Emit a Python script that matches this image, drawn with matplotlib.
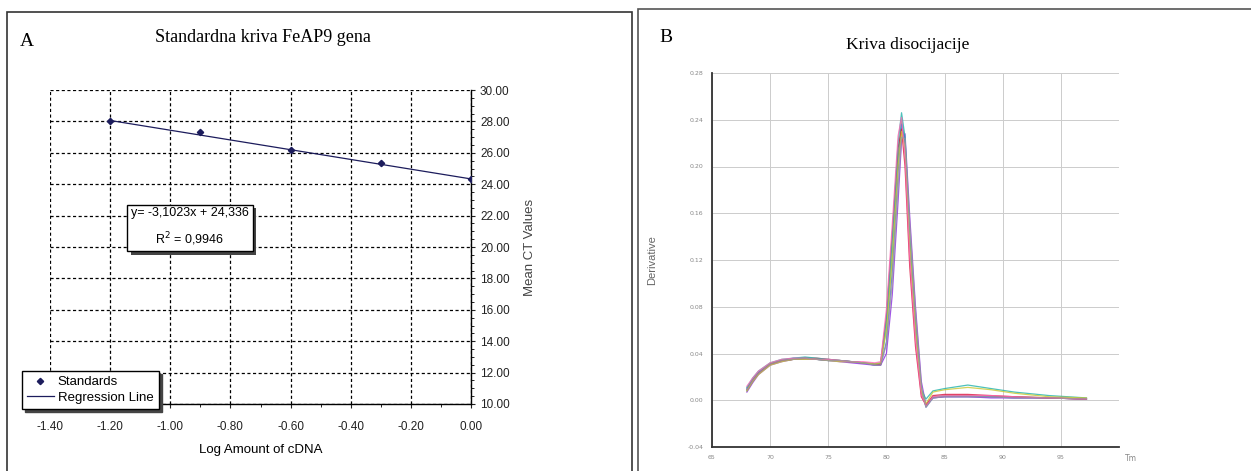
import matplotlib
matplotlib.use("Agg")
import matplotlib.pyplot as plt
import matplotlib.patheffects as pe
from matplotlib.patches import Rectangle
from matplotlib.lines import Line2D
import numpy as np

# panel A: standard curve
log_cdna = [-1.20, -0.90, -0.60, -0.30, 0.00]
mean_ct = [28.05, 27.35, 26.18, 25.37, 24.33]
slope, intercept = -3.1023, 24.336
eq_text = "y= -3,1023x + 24,336\nR$^2$ = 0,9946"
a_xticks = [-1.40, -1.20, -1.00, -0.80, -0.60, -0.40, -0.20, 0.00]
a_yticks = [10, 12, 14, 16, 18, 20, 22, 24, 26, 28, 30]

# panel B: dissociation curves (read by eye)
tm = [68.0, 68.5, 69.0, 70.0, 71.0, 72.0, 73.0, 74.0, 75.0, 76.0, 77.0, 78.0, 79.0, 79.5,
      80.0, 80.5, 81.0, 81.3, 81.6, 82.0, 82.5, 83.0, 83.4, 84.0, 85.0, 87.0, 89.0, 91.0, 94.0, 97.2]
deriv_1 = [0.008, 0.016, 0.023, 0.031, 0.034, 0.035, 0.036, 0.035, 0.034, 0.034, 0.033, 0.032, 0.031, 0.031,
           0.062, 0.125, 0.205, 0.240, 0.218, 0.132, 0.060, 0.006, -0.005, 0.003, 0.004, 0.004, 0.003, 0.003, 0.002, 0.001]
deriv_2 = [0.010, 0.018, 0.024, 0.031, 0.034, 0.036, 0.036, 0.035, 0.034, 0.034, 0.033, 0.032, 0.030, 0.030,
           0.050, 0.110, 0.195, 0.236, 0.222, 0.140, 0.068, 0.010, -0.006, 0.002, 0.003, 0.003, 0.003, 0.002, 0.002, 0.001]
deriv_3 = [0.007, 0.015, 0.022, 0.030, 0.033, 0.035, 0.035, 0.035, 0.034, 0.033, 0.032, 0.031, 0.030, 0.030,
           0.040, 0.090, 0.170, 0.222, 0.228, 0.158, 0.080, 0.016, -0.004, 0.002, 0.003, 0.003, 0.002, 0.002, 0.002, 0.001]
deriv_4 = [0.009, 0.017, 0.023, 0.031, 0.034, 0.035, 0.036, 0.036, 0.035, 0.034, 0.033, 0.032, 0.031, 0.031,
           0.072, 0.142, 0.216, 0.232, 0.200, 0.115, 0.046, 0.003, -0.004, 0.004, 0.005, 0.005, 0.004, 0.003, 0.002, 0.001]
deriv_5 = [0.011, 0.019, 0.025, 0.032, 0.035, 0.036, 0.037, 0.036, 0.035, 0.034, 0.033, 0.032, 0.031, 0.032,
           0.070, 0.140, 0.220, 0.246, 0.225, 0.140, 0.064, 0.009, 0.001, 0.008, 0.010, 0.013, 0.010, 0.007, 0.004, 0.002]
deriv_6 = [0.008, 0.016, 0.022, 0.030, 0.033, 0.035, 0.035, 0.035, 0.034, 0.033, 0.033, 0.032, 0.031, 0.032,
           0.060, 0.120, 0.200, 0.230, 0.215, 0.135, 0.062, 0.008, -0.003, 0.007, 0.009, 0.011, 0.009, 0.006, 0.003, 0.002]
deriv_7 = [0.012, 0.019, 0.025, 0.032, 0.035, 0.036, 0.036, 0.035, 0.035, 0.034, 0.033, 0.033, 0.032, 0.033,
           0.078, 0.150, 0.226, 0.242, 0.208, 0.124, 0.052, 0.005, -0.005, 0.003, 0.004, 0.004, 0.004, 0.003, 0.002, 0.001]
deriv_8 = [0.009, 0.017, 0.023, 0.031, 0.034, 0.035, 0.036, 0.035, 0.034, 0.034, 0.033, 0.032, 0.030, 0.030,
           0.048, 0.100, 0.182, 0.225, 0.224, 0.152, 0.076, 0.013, -0.006, 0.002, 0.003, 0.003, 0.003, 0.002, 0.002, 0.001]
curves = [deriv_1, deriv_2, deriv_3, deriv_4, deriv_5, deriv_6, deriv_7, deriv_8]
curve_colors = ['#3cb371', '#4169e1', '#8a2be2', '#dc143c', '#20b2aa', '#c8c832', '#ff69b4', '#9a9a9a']
b_xticks = [65, 70, 75, 80, 85, 90, 95, 100]
b_xlabels = ['65', '70', '75', '80', '85', '90', '95', '']
b_yticks = [-0.04, 0.00, 0.04, 0.08, 0.12, 0.16, 0.20, 0.24, 0.28]

W, H = 1251, 471
fig = plt.figure(figsize=(W / 100, H / 100), dpi=100)
fig.patch.set_facecolor('white')

def fx(px):
    return px / W

def fy(py):
    return 1 - py / H

# panel frames
fig.add_artist(Rectangle((fx(7), -0.02), fx(625), fy(12) + 0.02, transform=fig.transFigure,
                         fill=False, ec='#333333', lw=1.2))
fig.add_artist(Rectangle((fx(638), -0.02), 0.6, fy(9) + 0.02, transform=fig.transFigure,
                         fill=False, ec='#555555', lw=1.2))

# ---------------- panel A ----------------
axA = fig.add_axes([fx(50), fy(404), fx(471 - 50), (404 - 90) / H])
navy = '#1c1c5c'
xl = np.array([-1.2, 0.0])
axA.plot(xl, slope * xl + intercept, color=navy, lw=0.9, zorder=3)
axA.plot(log_cdna, mean_ct, ls='none', marker='D', ms=3.2, color=navy, zorder=4)
axA.set_xlim(-1.4, 0.0)
axA.set_ylim(10, 30)
axA.set_xticks(a_xticks)
axA.set_xticklabels(['%.2f' % v for v in a_xticks])
axA.set_yticks(a_yticks)
axA.set_yticklabels(['%.2f' % v for v in a_yticks])
axA.set_xticks(np.arange(-1.4, 0.001, 0.1), minor=True)
axA.set_yticks(np.arange(10, 30.01, 0.5), minor=True)
axA.yaxis.tick_right()
axA.yaxis.set_label_position('right')
axA.grid(True, which='major', color='black', ls=(0, (2.5, 2)), lw=0.9)
for s in ['left', 'top']:
    axA.spines[s].set_visible(False)
axA.spines['right'].set_linewidth(1.0)
axA.spines['bottom'].set_linewidth(1.0)
axA.tick_params(which='major', length=3, labelsize=8.5, colors='#222222')
axA.tick_params(which='minor', length=2)
axA.tick_params(axis='x', pad=9)
for lab in axA.get_xticklabels() + axA.get_yticklabels():
    lab.set_fontfamily('Liberation Sans')
axA.set_xlabel('Log Amount of cDNA', fontsize=9.5, family='Liberation Sans', labelpad=8)
axA.set_ylabel('Mean CT Values', fontsize=9.5, family='Liberation Sans', labelpad=10, color='#444444')

t = axA.text(-0.935, 21.25, eq_text, ha='center', va='center', multialignment='center',
             fontsize=9, family='Liberation Sans', zorder=5, linespacing=1.8,
             bbox=dict(boxstyle='square,pad=0.3', fc='white', ec='black', lw=1.0))
t.get_bbox_patch().set_path_effects([pe.SimplePatchShadow(offset=(2.5, -2.5), shadow_rgbFace='#444444', alpha=1),
                                     pe.Normal()])

handles = [Line2D([], [], ls='none', marker='D', ms=3.2, color=navy),
           Line2D([], [], color=navy, lw=0.9)]
leg = axA.legend(handles, ['Standards', 'Regression Line'], loc='lower left',
                 bbox_to_anchor=(fx(22), fy(409)), bbox_transform=fig.transFigure,
                 borderaxespad=0, fancybox=False, edgecolor='black', framealpha=1,
                 shadow={'color': '#444444', 'alpha': 1, 'ox': 2.5, 'oy': -2.5},
                 prop={'family': 'Liberation Sans', 'size': 9.5}, handlelength=2.0,
                 handletextpad=0.3, labelspacing=0.25, borderpad=0.4)
leg.get_frame().set_linewidth(1.0)

fig.text(fx(27), fy(42), 'A', fontsize=14, family='Liberation Serif', ha='center', va='center')
fig.text(fx(263), fy(38), 'Standardna kriva FeAP9 gena', fontsize=13,
         family='Liberation Serif', ha='center', va='center')

# ---------------- panel B ----------------
axB = fig.add_axes([fx(712), fy(447), fx(1119 - 712), (447 - 73) / H])
for ys, c in zip(curves, curve_colors):
    axB.plot(tm, ys, color=c, lw=0.9, alpha=0.8)
axB.set_xlim(65, 100)
axB.set_ylim(-0.04, 0.28)
axB.set_xticks(b_xticks)
axB.set_xticklabels(b_xlabels)
axB.set_yticks(b_yticks)
axB.set_yticklabels(['%.2f' % v for v in b_yticks])
axB.grid(True, color='#cccccc', lw=0.7)
for s in ['right', 'top']:
    axB.spines[s].set_visible(False)
for s in ['left', 'bottom']:
    axB.spines[s].set_color('#333333')
    axB.spines[s].set_linewidth(1.3)
axB.tick_params(length=0, labelsize=4.5, colors='#888888', pad=6)
axB.set_ylabel('Derivative', fontsize=8, color='#666666', family='Liberation Sans', labelpad=22)
axB.text(1.015, -0.03, 'Tm', transform=axB.transAxes, fontsize=5.5, color='#888888', va='center')

fig.text(fx(666), fy(37), 'B', fontsize=14, family='Liberation Serif', ha='center', va='center')
fig.text(fx(908), fy(45), 'Kriva disocijacije', fontsize=12.5, family='Liberation Serif',
         ha='center', va='center')

fig.savefig('out.png', dpi=100, facecolor='white')
